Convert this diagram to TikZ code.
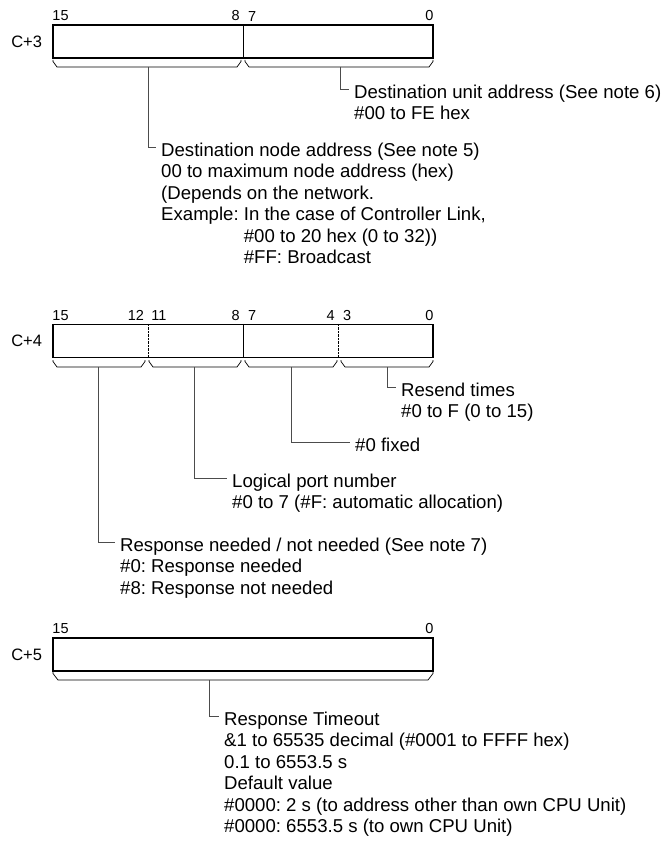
\documentclass[tikz,border=0pt]{standalone}
\usepackage{fontspec}
\setmainfont{Liberation Sans}
\usetikzlibrary{positioning}

% lines of a note, first baseline on top
\newcommand\notelines[1]{\begin{tabular}[t]{@{}l@{}}#1\end{tabular}}

\begin{document}
\frenchspacing
\begin{tikzpicture}[x=1pt, y=-1pt, node distance=4pt]
      \tikzstyle{word}=[draw, line width=1.5pt, minimum width=380pt, minimum height=33pt, inner sep=0pt]
      \tikzstyle{wordname}=[inner sep=0pt, font=\fontsize{16.5}{16.5}\selectfont]
      \tikzstyle{bitno}=[inner sep=0pt, font=\fontsize{14.5}{14.5}\selectfont]
      \tikzstyle{head}=[inner sep=0pt, inner xsep=5pt, text height=18pt, text depth=0pt, font=\fontsize{18.6}{21.5}\selectfont]
      \tikzstyle{body}=[inner sep=0pt, inner xsep=5pt, text height=21.5pt, anchor=north west, font=\fontsize{18.6}{21.5}\selectfont]
      \tikzstyle{fieldbrace}=[line width=0.7pt]
      \tikzstyle{leader}=[line width=0.8pt, black!70]

      \useasboundingbox (0,0) rectangle (661,843);

      % Word C+3: destination node / unit address.
      \node[word]
        (w3) at (243,41.5)
        {};
      \node[wordname, left=10pt of w3] (n3) {C+3};
      \node[bitno, above right=3pt and 0pt of w3.north west] (w3b15) {15};
      \node[bitno, above left=3pt and 3pt of w3.north] (w3b8) {8};
      \node[bitno, above right=3pt and 5pt of w3.north] (w3b7) {7};
      \node[bitno, above left=3pt and 0pt of w3.north east] (w3b0) {0};
      \draw (w3.north) -- (w3.south);

      \foreach \xa/\xb in {53/241, 245/433}
        \draw[fieldbrace] (\xa,60) -- (\xa,61.5) -- (\xa+4,67) -- (\xb-4,67) -- (\xb,61.5) -- (\xb,60);
      \coordinate (nodeBr) at (148,67);
      \coordinate (unitBr) at (340,67);

      \node[head, anchor=west]
        (unitHd) at (349,89)     % bits 0-7
        {Destination unit address (See note 6)};
      \node[body] (unitTx) at (unitHd.south west) {\notelines{\#00 to FE hex}};

      \node[head, anchor=west]
        (nodeHd) at (156,147)    % bits 8-15
        {Destination node address (See note 5)};
      \node[body] (nodeTx) at (nodeHd.south west)
        {\notelines{00 to maximum node address (hex)\\
         (Depends on the network.\\
         Example: In the case of Controller Link,\\
         \hphantom{Example: }\#00 to 20 hex (0 to 32))\\
         \hphantom{Example: }\#FF: Broadcast}};

      \draw[leader] (unitBr) |- (unitHd);
      \draw[leader] (nodeBr) |- (nodeHd);

      % Word C+4: four nibbles, dotted inside each byte.
      \node[word]
        (w4) at (243,341)
        {};
      \node[wordname, left=10pt of w4] (n4) {C+4};
      \node[bitno, above right=3pt and 0pt of w4.north west] (w4b15) {15};
      \node[bitno, above left=3pt and 3pt of w4.north west, xshift=95pt] (w4b12) {12};
      \node[bitno, above right=3pt and 4pt of w4.north west, xshift=95pt] (w4b11) {11};
      \node[bitno, above left=3pt and 3pt of w4.north] (w4b8) {8};
      \node[bitno, above right=3pt and 5pt of w4.north] (w4b7) {7};
      \node[bitno, above left=3pt and 3pt of w4.north, xshift=95pt] (w4b4) {4};
      \node[bitno, above right=3pt and 5pt of w4.north, xshift=95pt] (w4b3) {3};
      \node[bitno, above left=3pt and 0pt of w4.north east] (w4b0) {0};
      \coordinate (q1) at (148,0);
      \coordinate (q3) at (338,0);
      \draw (w4.north) -- (w4.south);
      \draw[densely dotted] (q1 |- w4.north) -- (q1 |- w4.south);
      \draw[densely dotted] (q3 |- w4.north) -- (q3 |- w4.south);

      \foreach \xa/\xb in {53/145, 149/241, 245/337, 341/433}
        \draw[fieldbrace] (\xa,360) -- (\xa,361.5) -- (\xa+4,367) -- (\xb-4,367) -- (\xb,361.5) -- (\xb,360);
      \coordinate (respBr) at (98,367);
      \coordinate (portBr) at (194,367);
      \coordinate (fixBr) at (291,367);
      \coordinate (sendBr) at (387,367);

      \node[head, anchor=west]
        (sendHd) at (396,387)    % bits 0-3
        {Resend times};
      \node[body] (sendTx) at (sendHd.south west) {\notelines{\#0 to F (0 to 15)}};

      \node[head, anchor=west]
        (fixHd) at (350,442)     % bits 4-7
        {\#0 fixed};

      \node[head, anchor=west]
        (portHd) at (227,478)    % bits 8-11
        {Logical port number};
      \node[body] (portTx) at (portHd.south west) {\notelines{\#0 to 7 (\#F: automatic allocation)}};

      \node[head, anchor=west]
        (respHd) at (115,542)    % bits 12-15
        {Response needed / not needed (See note 7)};
      \node[body] (respTx) at (respHd.south west)
        {\notelines{\#0: Response needed\\
         \#8: Response not needed}};

      \draw[leader] (sendBr) |- (sendHd);
      \draw[leader] (fixBr) |- (fixHd);
      \draw[leader] (portBr) |- (portHd);
      \draw[leader] (respBr) |- (respHd);

      % Word C+5: one 16-bit field.
      \node[word]
        (w5) at (243,654.5)
        {};
      \node[wordname, left=10pt of w5] (n5) {C+5};
      \node[bitno, above right=3pt and 0pt of w5.north west] (w5b15) {15};
      \node[bitno, above left=3pt and 0pt of w5.north east] (w5b0) {0};

      \draw[fieldbrace] (53,672) -- (53,673.5) -- (58,680) -- (428,680) -- (433,673.5) -- (433,672);
      \coordinate (timeBr) at (209,680);

      \node[head, anchor=west]
        (timeHd) at (219,716)
        {Response Timeout};
      \node[body] (timeTx) at (timeHd.south west)
        {\notelines{\&1 to 65535 decimal (\#0001 to FFFF hex)\\
         0.1 to 6553.5 s\\
         Default value\\
         \#0000: 2 s (to address other than own CPU Unit)\\
         \#0000: 6553.5 s (to own CPU Unit)}};

      \draw[leader] (timeBr) |- (timeHd);
\end{tikzpicture}
\end{document}
